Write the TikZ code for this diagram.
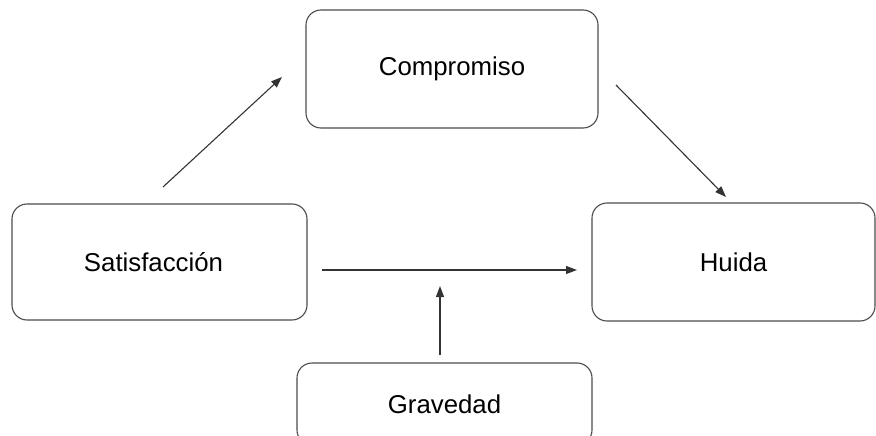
\documentclass[tikz,border=0pt]{standalone}
\usepackage{fontspec}
\setmainfont{Liberation Sans}
\usetikzlibrary{arrows.meta}
\begin{document}
\begin{tikzpicture}[x=1pt,y=-1pt,
  box/.style={draw=black!70, line width=1.1pt, rounded corners=15pt,
    fill=white, inner sep=0pt, font=\fontsize{25.8}{30}\selectfont},
  link/.style={draw=black!80, line width=1.1pt,
    -{Triangle[length=11pt,width=8pt]}}]
  \useasboundingbox (0,0) rectangle (876,436);
  \clip (0,0) rectangle (876,436);
  % boxes
  \node[box, minimum width=292pt, minimum height=118pt] (comp) at (452,69) {Compromiso};
  \node[box, minimum width=295pt, minimum height=116pt] (sat) at (159.5,262) {\hspace*{-12pt}Satisfacción};
  \node[box, minimum width=283pt, minimum height=118pt] (hui) at (733.5,262) {Huida};
  \node[box, minimum width=295pt, minimum height=82pt] (grav) at (444.5,404) {Gravedad};
  % arrow end points, kept clear of the boxes
  \coordinate (satTop) at (163,187);
  \coordinate (compIn) at (282,77);
  \coordinate (compOut) at (616,85);
  \coordinate (huiTop) at (726,197);
  \coordinate (satRight) at (322,270);
  \coordinate (huiLeft) at (577,270);
  \coordinate (gravTop) at (440,355);
  \coordinate (midLine) at (440,286);
  % connectors
  \draw[link] (satTop) -- (compIn);
  \draw[link] (compOut) -- (huiTop);
  \draw[link] (satRight) -- (huiLeft);
  \draw[link] (gravTop) -- (midLine);
\end{tikzpicture}
\end{document}
